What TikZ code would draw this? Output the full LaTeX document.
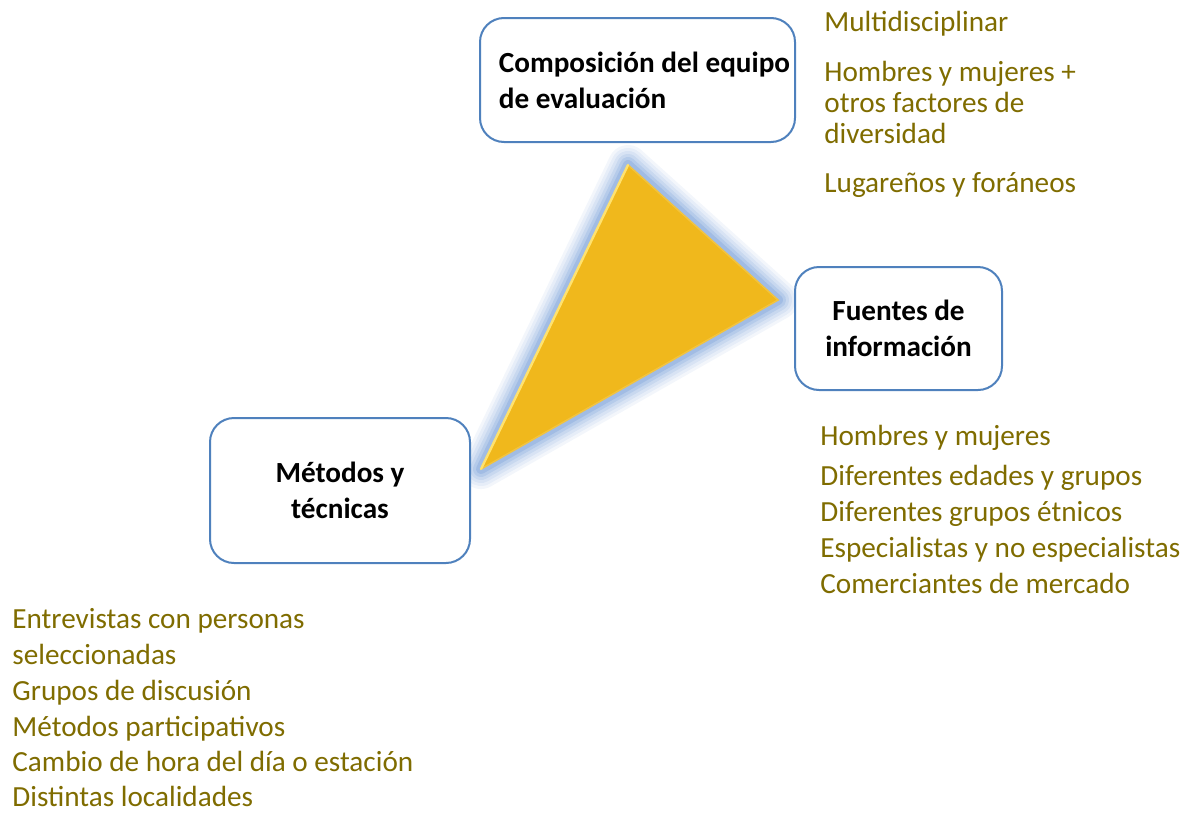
\documentclass[tikz,border=0pt]{standalone}
\usepackage{fontspec}
\setmainfont{Carlito}
\definecolor{boxblue}{RGB}{79,129,189}
\definecolor{olive}{RGB}{127,108,0}
\definecolor{tri}{RGB}{240,184,28}
\definecolor{trilight}{RGB}{255,226,110}
\definecolor{glow}{RGB}{100,145,210}
\begin{document}
\begin{tikzpicture}[x=0.5pt,y=-0.5pt,
  box/.style={draw=boxblue,line width=1pt,rounded corners=12pt,fill=white,
    font=\fontsize{14.6pt}{18pt}\selectfont\bfseries,inner sep=0pt},
  item/.style={anchor=mid west,text=olive,inner sep=0pt,
    font=\fontsize{14.6pt}{17pt}\selectfont}]
\useasboundingbox (0,0) rectangle (1194,814);
% glow around triangle
\coordinate (ta) at (628,165);
\coordinate (tb) at (778,300);
\coordinate (tc) at (481,469);
\foreach \w/\o in {20/0.08,17/0.09,14/0.11,11/0.14,8/0.18,5/0.25}{
  \draw[glow,line width=\w pt,line join=round,opacity=\o] (ta) -- (tb) -- (tc) -- cycle;
}
\fill[tri] (ta) -- (tb) -- (tc) -- cycle;
\draw[tri!85!white,line width=0.8pt] (ta) -- (tb) -- (tc);
\draw[trilight,line width=1.2pt,line cap=round] (ta) -- (tc);
% boxes
\node[box,minimum width=157.5pt,minimum height=62pt,align=left,text depth=0pt] (comp) at (637.5,80)
  {\hspace*{7pt}Composición del equipo\\\hspace*{7pt}de evaluación};
\node[box,minimum width=103.5pt,minimum height=61.5pt,align=center] (fuent) at (898.5,328.5)
  {Fuentes de\\información};
\node[box,minimum width=130pt,minimum height=72.5pt,align=center] (metod) at (340,490.5)
  {Métodos y\\técnicas};
% lists
\begin{scope}[yshift=-2.5pt]
\node[item] (c1) at (824,22) {Multidisciplinar};
\node[item] (c2) at (824,72) {Hombres y mujeres +};
\node[item] (c3) at (824,103) {otros factores de};
\node[item] (c4) at (824,134) {diversidad};
\node[item] (c5) at (824,183) {Lugareños y foráneos};
\node[item] (f1) at (820,436) {Hombres y mujeres};
\node[item] (f2) at (820,476) {Diferentes edades y grupos};
\node[item] (f3) at (820,512) {Diferentes grupos étnicos};
\node[item] (f4) at (820,548) {Especialistas y no especialistas};
\node[item] (f5) at (820,584) {Comerciantes de mercado};
\node[item] (m1) at (12,619) {Entrevistas con personas};
\node[item] (m2) at (12,655) {seleccionadas};
\node[item] (m3) at (12,691) {Grupos de discusión};
\node[item] (m4) at (12,727) {Métodos participativos};
\node[item] (m5) at (12,762) {Cambio de hora del día o estación};
\node[item] (m6) at (12,797) {Distintas localidades};
\end{scope}
\end{tikzpicture}
\end{document}
